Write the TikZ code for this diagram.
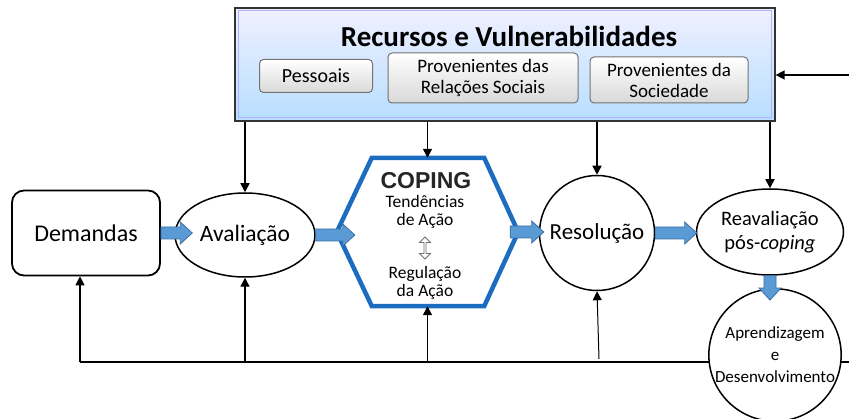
\documentclass[tikz,border=0pt]{standalone}
\usepackage{fontspec}
\setmainfont{Carlito}
\newfontfamily\arialf{Liberation Sans}
\usetikzlibrary{shapes.geometric,shapes.arrows,calc,arrows.meta}
\definecolor{fatfill}{HTML}{5B9BD5}
\definecolor{fatline}{HTML}{3A6EA5}
\definecolor{hexblue}{HTML}{1C6CC0}
\newcommand\hfat[2]{\path[fatarr] let \p1=(#1), \p2=(#2) in
  (\x1,\y1+6pt) -- (\x2-12pt,\y1+6pt) -- (\x2-12pt,\y1+11pt) -- (\x2,\y1)
  -- (\x2-12pt,\y1-11pt) -- (\x2-12pt,\y1-6pt) -- (\x1,\y1-6pt) -- cycle;}
\newcommand\vfat[2]{\path[fatarr] let \p1=(#1), \p2=(#2) in
  (\x1-6pt,\y1) -- (\x1-6pt,\y2+12pt) -- (\x1-11pt,\y2+12pt) -- (\x1,\y2)
  -- (\x1+11pt,\y2+12pt) -- (\x1+6pt,\y2+12pt) -- (\x1+6pt,\y1) -- cycle;}
\begin{document}
\begin{tikzpicture}[x=1pt,y=-1pt,
  blk/.style={-{Triangle[length=9pt,width=9pt]}, line width=1.4pt, black},
  fatarr/.style={fill=fatfill, draw=fatline, line width=0.8pt},
  topbox/.style={draw=black!80, line width=1.6pt, top color=blue!6, bottom color=blue!45!cyan!28, inner sep=0},
  subbox/.style={draw=black!55, line width=1pt, rounded corners=4pt, top color=white, bottom color=black!15, align=center, font=\fontsize{19}{21}\selectfont, inner sep=0},
  ell/.style={ellipse, draw, line width=1.5pt, fill=white, inner sep=0, align=center},
  circ/.style={circle, draw, line width=1.5pt, fill=white, inner sep=0, align=center},
  rbox/.style={draw, line width=1.8pt, rounded corners=12pt, fill=white, inner sep=0},
  hextxt/.style={align=center, font=\fontsize{17.5}{18}\selectfont}]
\useasboundingbox (0,0) rectangle (849,419);
% top box
\node[topbox, minimum width=540, minimum height=113, anchor=north west] (rv) at (234,7) {};
\draw[white!70!blue, line width=1pt] ($(rv.north west)+(4,4)$) rectangle ($(rv.south east)+(-4,-4)$);
\node[font=\bfseries\fontsize{29}{30}\selectfont] (title) at (509,36) {Recursos e Vulnerabilidades};
\node[subbox, minimum width=113, minimum height=33, font=\fontsize{20}{21}\selectfont] (pes) at (316,76) {Pessoais};
\node[subbox, minimum width=190, minimum height=50] (prs) at (483,78) {Provenientes das\\Relações Sociais};
\node[subbox, minimum width=158, minimum height=46] (ps) at (669,80) {Provenientes da\\Sociedade};
% feedback line coordinates
\coordinate (bl) at (80,362);
\coordinate (br) at (849,362);
\coordinate (rin) at (849,75);
\draw[line width=1.6pt] (br) -- (bl);
% main nodes
\node[rbox, minimum width=148, minimum height=85, font=\fontsize{24}{26}\selectfont] (dem) at (86,233) {Demandas};
\node[ell, minimum width=140, minimum height=84, font=\fontsize{23.5}{26}\selectfont] (aval) at (245,235) {Avaliação};
\node[minimum width=181, minimum height=148, inner sep=0] (cop) at (427.5,232) {};
\draw[hexblue, line width=4.5pt, fill=white, line join=miter]
  (cop.west) -- ($(cop.north west)+(35,0)$) -- ($(cop.north east)+(-34,0)$) -- (cop.east)
  -- ($(cop.south east)+(-34,0)$) -- ($(cop.south west)+(35,0)$) -- cycle;
\node[font=\arialf\bfseries\fontsize{23}{23}\selectfont, text=black!85] (copt) at (426,181) {COPING};
\node[hextxt] (tend) at (425,212) {Tendências\\de Ação};
\node[double arrow, draw=black!55, fill=white, line width=0.8pt, rotate=90, minimum height=22pt, minimum width=11pt, double arrow head extend=2pt, inner sep=0] (dbl) at (425,248) {};
\node[hextxt] (reg) at (425,283) {Regulação\\da Ação};
\node[circ, minimum size=115, font=\fontsize{23}{24}\selectfont] (res) at (597,233) {Resolução};
\node[ell, minimum width=147, minimum height=86, font=\fontsize{20.5}{24}\selectfont] (reav) at (770,232) {Reavaliação\\pós-\textit{coping}};
\node[circ, minimum size=130, font=\fontsize{17}{22}\selectfont] (apr) at (775,355) {Aprendizagem\\e\\Desenvolvimento};
% arrows from top box
\draw[blk] (rv.south -| aval) -- (aval.north);
\draw[blk] (rv.south -| cop) -- (cop.north);
\draw[blk] (rv.south -| res) -- (res.north);
\draw[blk] (rv.south -| reav) -- (reav.north);
\draw[blk] (rin) -- (rin -| rv.east);
% feedback arrows up
\draw[blk] (bl) -- (dem.south -| bl);
\draw[blk] (aval.south |- bl) -- (aval.south);
\draw[blk] (cop.south |- bl) -- (cop.south);
\draw[blk, line width=1pt] ($(res.south |- bl)+(2,-3)$) -- (res.south);
% fat arrows
\hfat{dem.east}{$(aval.west)+(18,0)$}
\hfat{aval.east}{$(cop.west)+(18,0)$}
\hfat{$(cop.east)+(-8,0)$}{$(res.west)+(5,0)$}
\hfat{res.east}{$(reav.west)+(1,0)$}
\vfat{reav.south}{$(apr.north)+(0,12)$}
\end{tikzpicture}
\end{document}
